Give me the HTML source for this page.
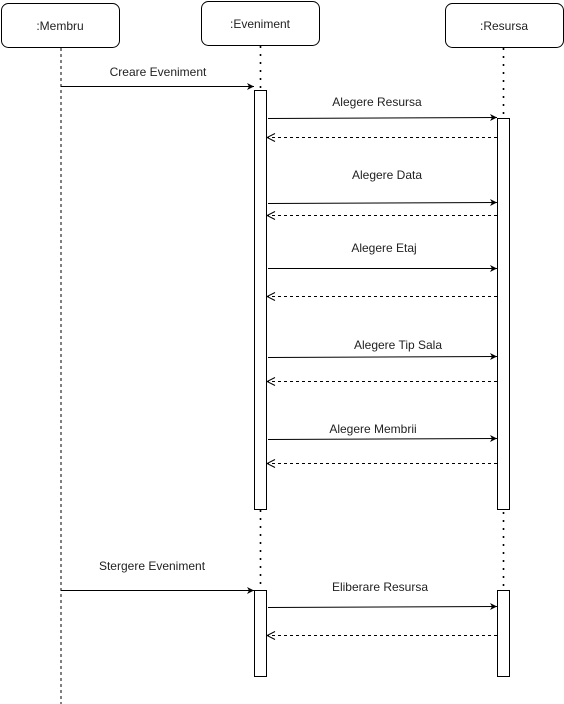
<!DOCTYPE html>
<html><head><style>body{margin:0;background:#fff}svg{display:block}text{font-family:"Liberation Sans",sans-serif;font-size:12px;fill:#222}</style></head>
<body>
<svg width="564" height="704" viewBox="0 0 564 704" xmlns="http://www.w3.org/2000/svg">
<defs>
<marker id="a" markerWidth="8" markerHeight="8" refX="7" refY="4" orient="auto" markerUnits="userSpaceOnUse"><path d="M0,0.5 L7,4 L0,7.5 L2,4 Z" fill="#000"/></marker>
<marker id="o" markerWidth="10" markerHeight="10" refX="9" refY="5" orient="auto" markerUnits="userSpaceOnUse"><path d="M1,1 L9,5 L1,9" fill="none" stroke="#000" stroke-width="1"/></marker>
</defs>
<g fill="#fff" stroke="#000" stroke-width="1">
<rect x="1.5" y="3.5" width="118" height="44" rx="7"/>
<rect x="201.5" y="1.5" width="118" height="44" rx="7"/>
<rect x="445.5" y="3.5" width="118" height="44" rx="7"/>
</g>
<text x="60" y="30" text-anchor="middle">:Membru</text>
<text x="260" y="28" text-anchor="middle">:Eveniment</text>
<text x="504" y="30" text-anchor="middle">:Resursa</text>
<line x1="61" y1="48" x2="61" y2="704" stroke="#000" stroke-dasharray="3,3"/>
<line x1="260.5" y1="46" x2="260.5" y2="590" stroke="#000" stroke-width="1.6" stroke-dasharray="2,6"/>
<line x1="503.5" y1="48" x2="503.5" y2="590" stroke="#000" stroke-width="1.6" stroke-dasharray="2,6"/>
<g fill="#fff" stroke="#000">
<rect x="254.5" y="90.5" width="12" height="419"/>
<rect x="497.5" y="118.5" width="12" height="391"/>
<rect x="254.5" y="590.5" width="12" height="86"/>
<rect x="497.5" y="590.5" width="12" height="86"/>
</g>
<g stroke="#000" fill="none">
<line x1="61" y1="86.5" x2="254" y2="86.5" marker-end="url(#a)"/>
<line x1="268" y1="118.5" x2="497" y2="117.5" marker-end="url(#a)"/>
<line x1="497" y1="137.5" x2="267" y2="137.5" stroke-dasharray="3,3" marker-end="url(#o)"/>
<line x1="268" y1="203.5" x2="497" y2="202.5" marker-end="url(#a)"/>
<line x1="497" y1="215.5" x2="267" y2="215.5" stroke-dasharray="3,3" marker-end="url(#o)"/>
<line x1="268" y1="268.5" x2="497" y2="268.5" marker-end="url(#a)"/>
<line x1="497" y1="296.5" x2="267" y2="296.5" stroke-dasharray="3,3" marker-end="url(#o)"/>
<line x1="268" y1="357.5" x2="497" y2="356.5" marker-end="url(#a)"/>
<line x1="497" y1="381.5" x2="267" y2="381.5" stroke-dasharray="3,3" marker-end="url(#o)"/>
<line x1="268" y1="439.5" x2="497" y2="438.5" marker-end="url(#a)"/>
<line x1="497" y1="463.5" x2="267" y2="463.5" stroke-dasharray="3,3" marker-end="url(#o)"/>
<line x1="61" y1="590.5" x2="254" y2="590.5" marker-end="url(#a)"/>
<line x1="268" y1="607.5" x2="497" y2="606.5" marker-end="url(#a)"/>
<line x1="497" y1="635.5" x2="267" y2="635.5" stroke-dasharray="3,3" marker-end="url(#o)"/>
</g>
<text x="158" y="76" text-anchor="middle">Creare Eveniment</text>
<text x="377" y="106" text-anchor="middle">Alegere Resursa</text>
<text x="387" y="179" text-anchor="middle">Alegere Data</text>
<text x="384" y="252" text-anchor="middle">Alegere Etaj</text>
<text x="398" y="349" text-anchor="middle">Alegere Tip Sala</text>
<text x="373" y="433" text-anchor="middle">Alegere Membrii</text>
<text x="152" y="570" text-anchor="middle">Stergere Eveniment</text>
<text x="380" y="591" text-anchor="middle">Eliberare Resursa</text>
</svg>
</body></html>
